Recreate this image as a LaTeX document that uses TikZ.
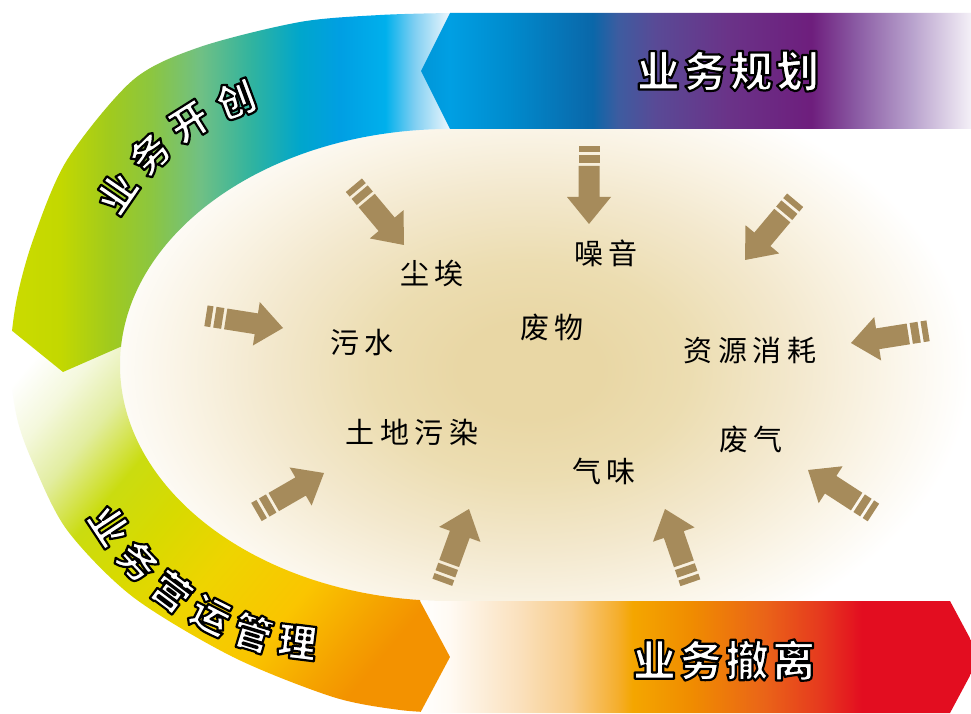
\documentclass[tikz,border=0pt]{standalone}
\usepackage{fontspec}
\usepackage{tikz}
\usepackage{xcolor}
\usetikzlibrary{calc}

\newfontfamily\labelfont[LetterSpace=20]{Noto Sans CJK SC}
\newfontfamily\titlefont[LetterSpace=8]{Noto Sans CJK SC}

\definecolor{arrowbrown}{HTML}{A68B5B}
% sand interior
\definecolor{sand0}{HTML}{E9D7A5}
\definecolor{sand1}{HTML}{ECDDB1}
\definecolor{sand2}{HTML}{F3E8CD}
\definecolor{sand3}{HTML}{FAF4E6}
% planning band
\definecolor{pl0}{HTML}{0096D8}
\definecolor{pl1}{HTML}{009FE3}
\definecolor{pl2}{HTML}{008BCD}
\definecolor{pl3}{HTML}{0A67A9}
\definecolor{pl4}{HTML}{3D5CA0}
\definecolor{pl5}{HTML}{594A96}
\definecolor{pl6}{HTML}{6A3388}
\definecolor{pl7}{HTML}{6E1E7D}
\definecolor{pl8}{HTML}{8A5AA3}
\definecolor{pl9}{HTML}{B7A0CC}
\definecolor{pl10}{HTML}{F4F0F7}
% exit band
\definecolor{ex1}{HTML}{FFFAF3}
\definecolor{ex2}{HTML}{FAE0BC}
\definecolor{ex3}{HTML}{F8CC8A}
\definecolor{ex4}{HTML}{F5AE2C}
\definecolor{ex5}{HTML}{F4A600}
\definecolor{ex6}{HTML}{F08C00}
\definecolor{ex7}{HTML}{EA6418}
\definecolor{ex8}{HTML}{E63A1E}
\definecolor{ex9}{HTML}{E30D20}
% opening band
\definecolor{op0}{HTML}{CBDB00}
\definecolor{op1}{HTML}{C3D800}
\definecolor{op2}{HTML}{A0CA1E}
\definecolor{op3}{HTML}{8CC63F}
\definecolor{op4}{HTML}{70C084}
\definecolor{op5}{HTML}{2FB3A0}
\definecolor{op6}{HTML}{00A6CC}
\definecolor{op7}{HTML}{009FE3}
\definecolor{op8}{HTML}{00B0EC}
\definecolor{op9}{HTML}{80CFF2}
\definecolor{op10}{HTML}{EEF7FD}
% operation band
\definecolor{rn1}{HTML}{F4F8DC}
\definecolor{rn2}{HTML}{E2EDA0}
\definecolor{rn3}{HTML}{CADC10}
\definecolor{rn4}{HTML}{D8DA00}
\definecolor{rn5}{HTML}{EED400}
\definecolor{rn6}{HTML}{FAC500}
\definecolor{rn7}{HTML}{F5A300}
\definecolor{rn8}{HTML}{F39200}

\pgfdeclareradialshading{sandglow}{\pgfpoint{0bp}{0bp}}{color(0bp)=(sand0); color(4bp)=(sand0); color(9bp)=(sand1); color(15bp)=(sand2); color(20bp)=(sand3); color(25bp)=(white); color(50bp)=(white)}
\pgfdeclarehorizontalshading{planband}{100bp}{color(0bp)=(pl0); color(25bp)=(pl0); color(27.6bp)=(pl1); color(33bp)=(pl2); color(40.6bp)=(pl3); color(42.9bp)=(pl4); color(46.3bp)=(pl5); color(52.9bp)=(pl6); color(60.5bp)=(pl7); color(64.5bp)=(pl8); color(69.5bp)=(pl9); color(75bp)=(pl10); color(100bp)=(pl10)}
\pgfdeclarehorizontalshading{exitband}{100bp}{color(0bp)=(white); color(25bp)=(white); color(27.8bp)=(ex1); color(34.1bp)=(ex2); color(38.6bp)=(ex3); color(42.8bp)=(ex4); color(44.1bp)=(ex5); color(49.3bp)=(ex6); color(55.8bp)=(ex7); color(60.7bp)=(ex8); color(64.5bp)=(ex9); color(100bp)=(ex9)}
\pgfdeclarehorizontalshading{openband}{100bp}{color(0bp)=(op0); color(26.1bp)=(op0); color(31.4bp)=(op1); color(36.7bp)=(op2); color(41bp)=(op3); color(46.3bp)=(op4); color(51.9bp)=(op5); color(56.9bp)=(op6); color(61.2bp)=(op7); color(66bp)=(op8); color(69.1bp)=(op9); color(72.9bp)=(op10); color(75bp)=(white); color(100bp)=(white)}
\pgfdeclarehorizontalshading{runband}{100bp}{color(0bp)=(white); color(25bp)=(white); color(30bp)=(rn1); color(35bp)=(rn2); color(41bp)=(rn3); color(47.5bp)=(rn4); color(55bp)=(rn5); color(64bp)=(rn6); color(71bp)=(rn7); color(75bp)=(rn8); color(100bp)=(rn8)}

% outer U of the life cycle
\def\cyclepath{plot[smooth] coordinates {(450,700) (380,698) (300,691) (200,666) (133,633) (67,553) (33,473) (16,410) (10,350) (17,295) (33,250) (67,183) (133,116) (233,56) (333,16) (400,3) (450,0)} -- (460,0) -- (460,112) -- (450,112) arc[start angle=270, end angle=90, x radius=330pt, y radius=236pt] -- (460,584) -- (460,700) -- cycle}

% white letters with a black rim
\makeatletter
\newcommand{\outlined}[1]{{\pgfsys@invoke{2 Tr 2.2 w 1 j 1 g 0 G}#1\pgfsys@invoke{0 Tr}}}
\makeatother

\newcommand{\wastearrow}[2]{%
  \begin{scope}[shift={(#1)}, rotate=#2]
    \fill[arrowbrown] (-78,-10.5) rectangle (-72,10.5);
    \fill[arrowbrown] (-69,-10.5) rectangle (-61,10.5);
    \fill[arrowbrown] (-58,-10.5) -- (-27,-10.5) -- (-27,-22) -- (0,0) -- (-27,22) -- (-27,10.5) -- (-58,10.5) -- cycle;
  \end{scope}}

\begin{document}
\begin{tikzpicture}[x=1pt, y=1pt,
  issue/.style={font={\labelfont\fontsize{29}{29}\selectfont}, text=black, inner sep=0pt},
  bandtitle/.style={font={\titlefont\bfseries\fontsize{43}{43}\selectfont}, text=black, inner sep=0pt},
  arcchar/.style={bandtitle, font={\titlefont\bfseries\fontsize{39}{39}\selectfont}}]
  \useasboundingbox (0,0) rectangle (971,713);
  \fill[white] (0,0) rectangle (971,713);

  %coordinates
  \coordinate (glow)  at (530,343);
  \coordinate (openC) at (323,379);
  \coordinate (runC)  at (330,333);
  \coordinate (tipDust)     at (404,468);
  \coordinate (tipNoise)    at (589,489);
  \coordinate (tipNE)       at (745,453);
  \coordinate (tipSewage)   at (283,385);
  \coordinate (tipResource) at (851,370);
  \coordinate (tipExhaust)  at (808,243);
  \coordinate (tipSoil)     at (324,240);
  \coordinate (tipSmellL)   at (469,204);
  \coordinate (tipSmellR)   at (665,204);

  % sand interior
  \begin{scope}
    \clip (971,584) -- (450,584) arc[start angle=90, end angle=270, x radius=330pt, y radius=236pt] -- (971,112) -- cycle;
    \shade[shading=sandglow] (glow) ellipse [x radius=440pt, y radius=300pt];
  \end{scope}

  % bands
  \shade[shading=exitband] (418,112) -- (950,112) -- (980,56) -- (950,0) -- (418,0) -- cycle;
  \begin{scope}
    \clip \cyclepath;
    \clip (-10,410) -- (420,410) -- (420,112) -- (450,56) -- (418,-4) -- (-10,-4) -- cycle;
    \shade[shading=runband, shading angle=-40] (-10,-10) rectangle (450,450);
  \end{scope}
  \begin{scope}
    \clip \cyclepath;
    \shade[shading=openband] (0,720) -- (0,392) -- (63,341) -- (200,401) -- (470,401) -- (470,720) -- cycle;
  \end{scope}
  \shade[shading=planband] (421,642) -- (450,700) -- (971,700) -- (971,584) -- (450,584) -- cycle;

  % arrows
  \wastearrow{tipDust}{-50}
  \wastearrow{tipNoise}{-90}
  \wastearrow{tipNE}{230}
  \wastearrow{tipSewage}{-9}
  \wastearrow{tipResource}{189}
  \wastearrow{tipExhaust}{147}
  \wastearrow{tipSoil}{30}
  \wastearrow{tipSmellL}{70}
  \wastearrow{tipSmellR}{109}

  %nodes
  \node[issue] (dust)     at (432,440) {尘埃};
  \node[issue] (noise)    at (606,460) {噪音};
  \node[issue] (waste)    at (552,385) {废物};
  \node[issue] (sewage)   at (362,370) {污水};
  \node[issue] (resource) at (750,363) {资源消耗};
  \node[issue] (soil)     at (412,281) {土地污染};
  \node[issue] (exhaust)  at (751,273) {废气};
  \node[issue] (smell)    at (604,242) {气味};

  \node[bandtitle] (plan) at (728,642) {\outlined{业务规划}};
  \node[bandtitle] (exit) at (724,53) {\outlined{业务撤离}};

  \node[arcchar, rotate=55.6] (open1) at ($(openC)+(145.6:250)$) {\outlined{业}};
  \node[arcchar, rotate=43.9] (open2) at ($(openC)+(133.9:250)$) {\outlined{务}};
  \node[arcchar, rotate=32.2] (open3) at ($(openC)+(122.2:250)$) {\outlined{开}};
  \node[arcchar, rotate=20.4] (open4) at ($(openC)+(110.4:250)$) {\outlined{创}};

  \node[arcchar, rotate=-56.6] (run1) at ($(runC)+(213.4:264)$) {\outlined{业}};
  \node[arcchar, rotate=-46.7] (run2) at ($(runC)+(223.3:264)$) {\outlined{务}};
  \node[arcchar, rotate=-36.8] (run3) at ($(runC)+(233.2:264)$) {\outlined{营}};
  \node[arcchar, rotate=-26.9] (run4) at ($(runC)+(243.1:264)$) {\outlined{运}};
  \node[arcchar, rotate=-17.0] (run5) at ($(runC)+(253.0:264)$) {\outlined{管}};
  \node[arcchar, rotate=-7.1]  (run6) at ($(runC)+(262.9:264)$) {\outlined{理}};
\end{tikzpicture}
\end{document}
